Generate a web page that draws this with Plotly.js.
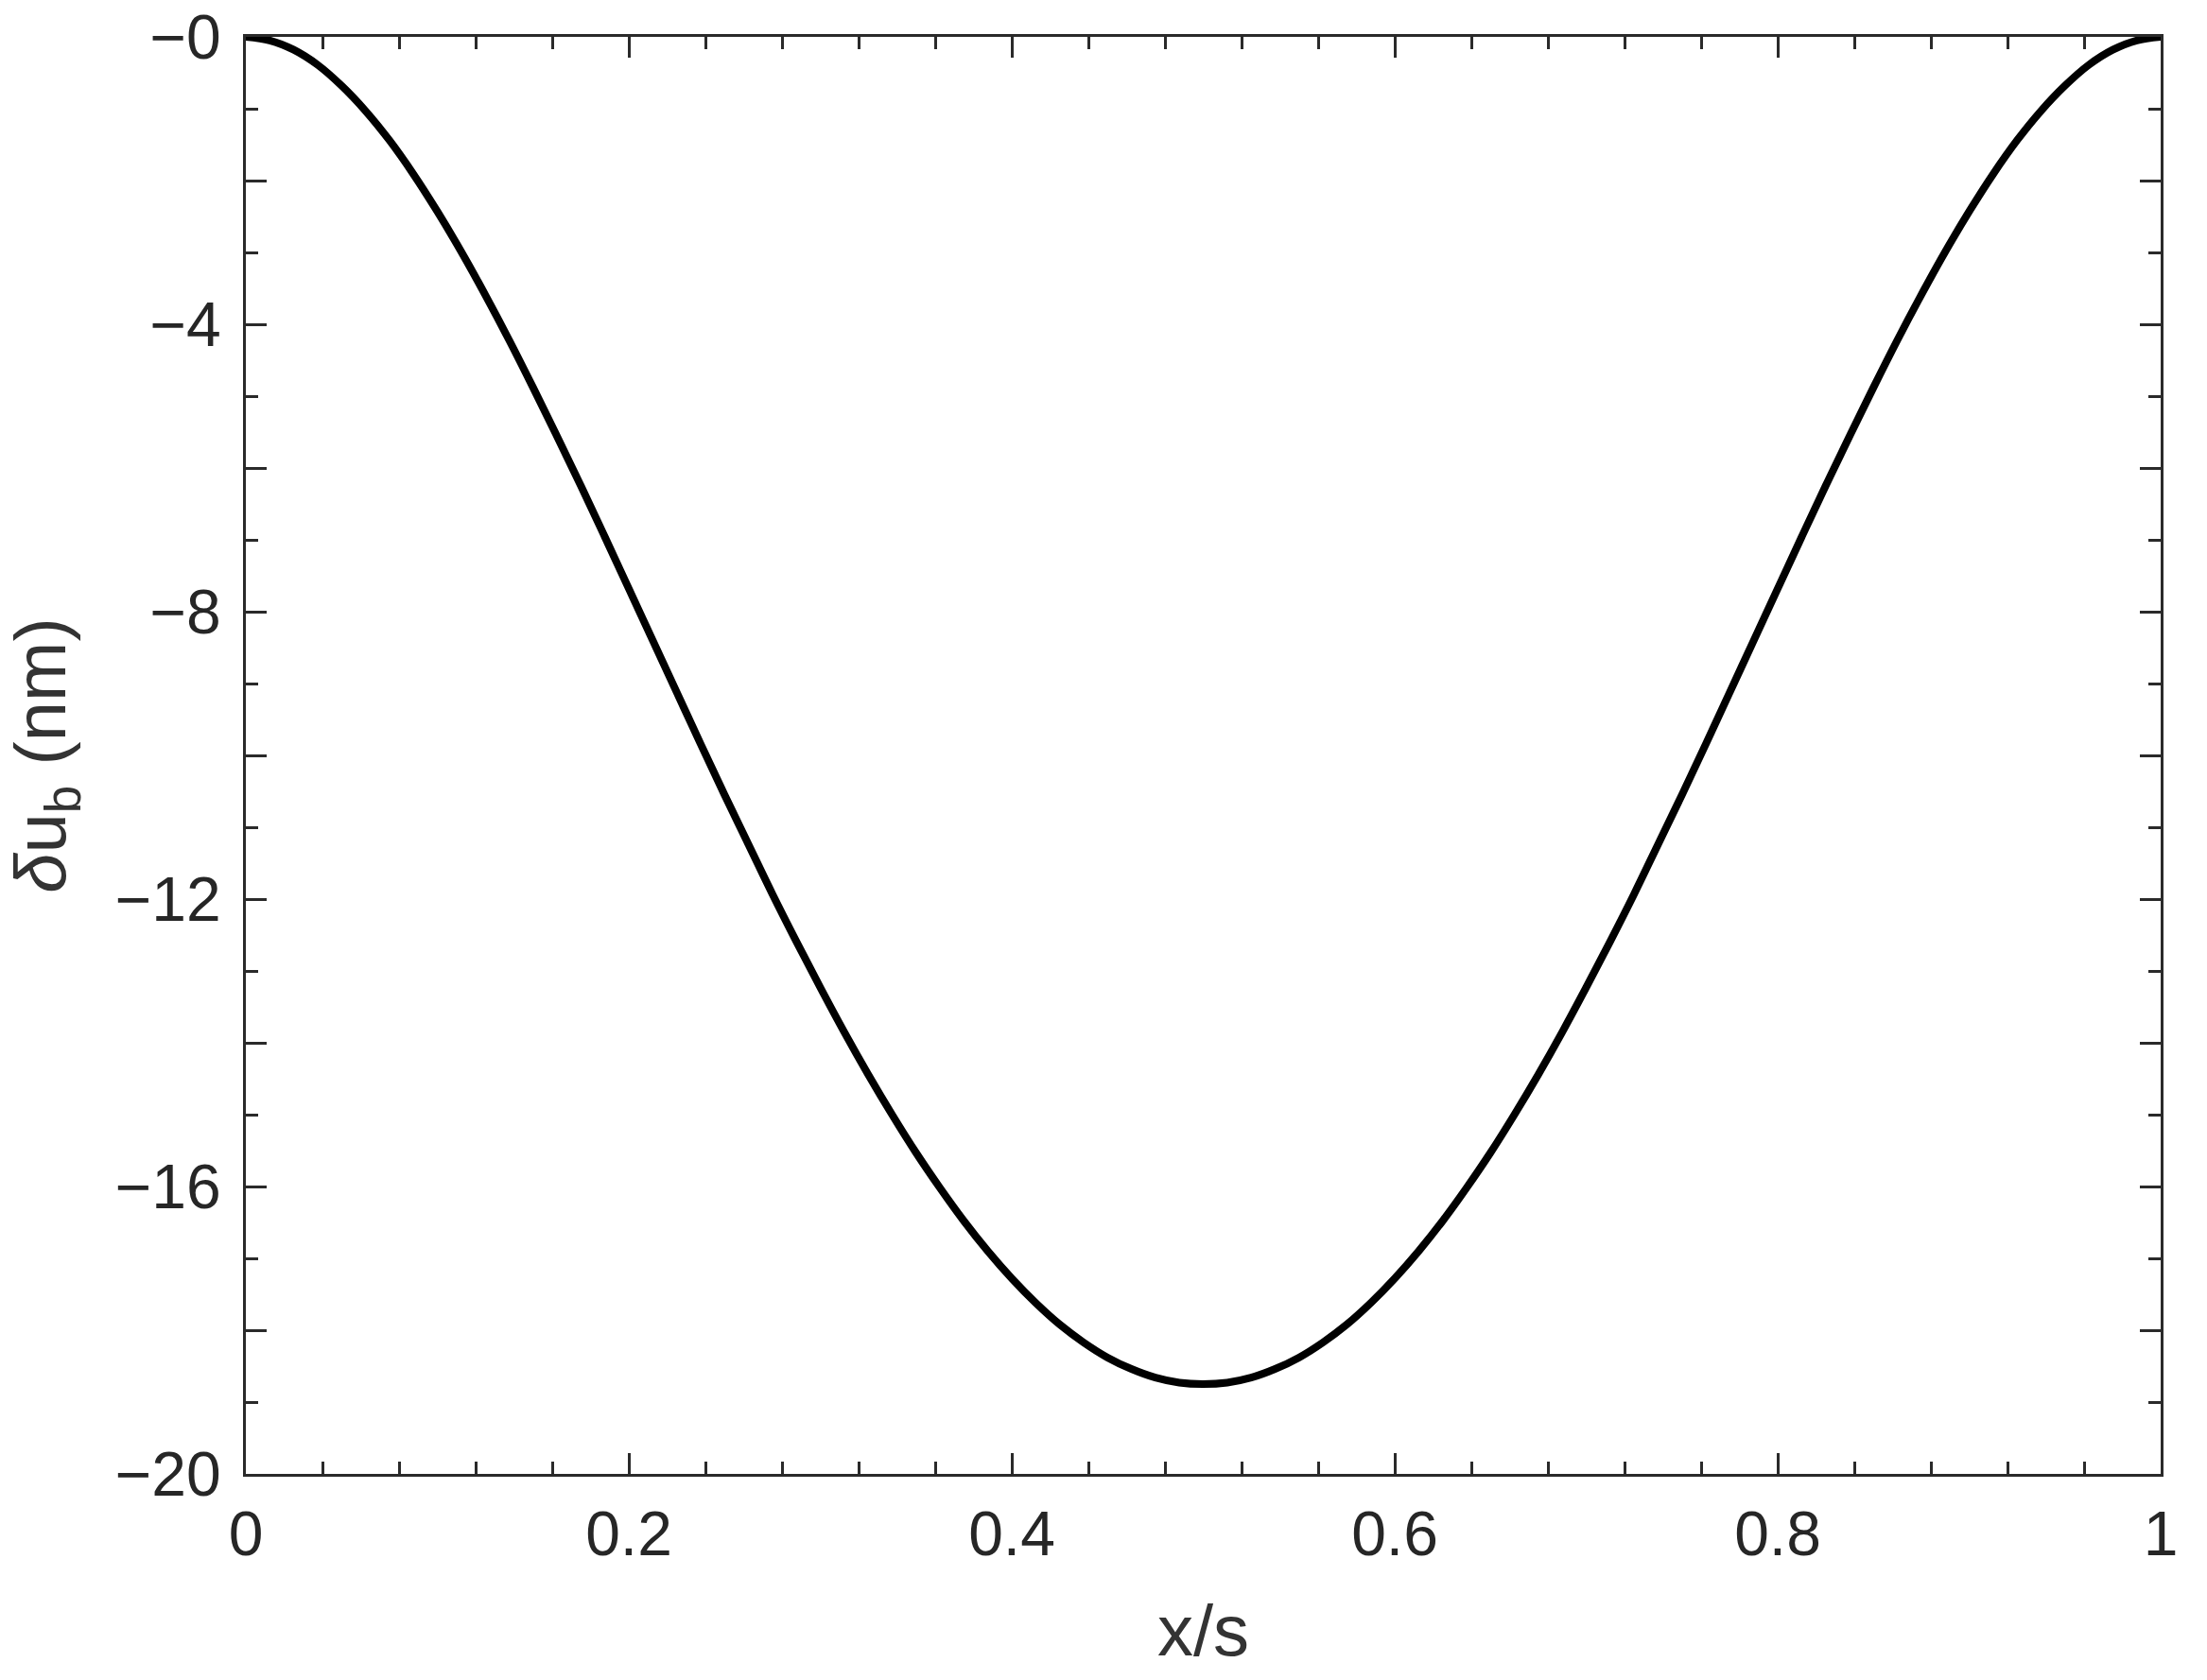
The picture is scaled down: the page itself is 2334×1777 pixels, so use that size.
<!DOCTYPE html>
<html>
<head>
<meta charset="utf-8">
<script src="https://cdn.plot.ly/plotly-3.0.1.min.js"></script>
<style>
  body { margin: 0; background: #fff; }
  #plot { width: 2334px; height: 1777px; }
</style>
</head>
<body>
<div id="plot"></div>
<script>
// positions along the span, x/s
var xs = [0, 0.0125, 0.025, 0.0375, 0.05, 0.0625, 0.075, 0.0875, 0.1, 0.1125,
          0.125, 0.1375, 0.15, 0.1625, 0.175, 0.1875, 0.2, 0.2125, 0.225, 0.2375,
          0.25, 0.2625, 0.275, 0.2875, 0.3, 0.3125, 0.325, 0.3375, 0.35, 0.3625,
          0.375, 0.3875, 0.4, 0.4125, 0.425, 0.4375, 0.45, 0.4625, 0.475, 0.4875,
          0.5, 0.5125, 0.525, 0.5375, 0.55, 0.5625, 0.575, 0.5875, 0.6, 0.6125,
          0.625, 0.6375, 0.65, 0.6625, 0.675, 0.6875, 0.7, 0.7125, 0.725, 0.7375,
          0.75, 0.7625, 0.775, 0.7875, 0.8, 0.8125, 0.825, 0.8375, 0.85, 0.8625,
          0.875, 0.8875, 0.9, 0.9125, 0.925, 0.9375, 0.95, 0.9625, 0.975, 0.9875, 1];

// deflection, nm
var du = [0, -0.05, -0.18, -0.39, -0.68, -1.03, -1.44, -1.91, -2.43, -2.99,
          -3.59, -4.22, -4.88, -5.56, -6.25, -6.96, -7.68, -8.40, -9.12, -9.84,
          -10.55, -11.24, -11.93, -12.59, -13.23, -13.85, -14.44, -15.00, -15.53, -16.02,
          -16.48, -16.90, -17.28, -17.62, -17.92, -18.17, -18.38, -18.54, -18.66, -18.73,
          -18.75, -18.73, -18.66, -18.54, -18.38, -18.17, -17.92, -17.62, -17.28, -16.90,
          -16.48, -16.02, -15.53, -15.00, -14.44, -13.85, -13.23, -12.59, -11.93, -11.24,
          -10.55, -9.84, -9.12, -8.40, -7.68, -6.96, -6.25, -5.56, -4.88, -4.22,
          -3.59, -2.99, -2.43, -1.91, -1.44, -1.03, -0.68, -0.39, -0.18, -0.05, 0];

var xTickVals = [0, 0.2, 0.4, 0.6, 0.8, 1];
var xTickText = ["0", "0.2", "0.4", "0.6", "0.8", "1"];
var yTickVals = [0, -2, -4, -6, -8, -10, -12, -14, -16, -18, -20];
var yTickText = ["\u22120", "", "\u22124", "", "\u22128", "", "\u221212", "", "\u221216", "", "\u221220"];

var axisCol = '#2a2a2a';

var trace = {
  x: xs,
  y: du,
  type: 'scatter',
  mode: 'lines',
  line: { color: '#000', width: 8, shape: 'spline', smoothing: 1 },
  cliponaxis: false,
  hoverinfo: 'skip'
};

var layout = {
  width: 2334,
  height: 1777,
  margin: { l: 260, r: 49, t: 39, b: 218 },
  paper_bgcolor: '#fff',
  plot_bgcolor: '#fff',
  showlegend: false,
  font: { family: 'Liberation Sans, Arial, sans-serif', color: '#262626' },
  xaxis: {
    range: [0, 1],
    tickmode: 'array',
    tickvals: xTickVals,
    ticktext: xTickText,
    ticks: 'inside',
    ticklen: 22,
    tickwidth: 3,
    tickcolor: axisCol,
    minor: { dtick: 0.04, tick0: 0, ticks: 'inside', ticklen: 13, tickwidth: 3, tickcolor: axisCol, showgrid: false },
    showline: true,
    linewidth: 3,
    linecolor: axisCol,
    mirror: 'allticks',
    showgrid: false,
    zeroline: false,
    tickfont: { size: 66, color: '#262626' },
    ticklabelstandoff: 4,
    title: { text: 'x/s', font: { size: 76, color: '#333' }, standoff: 40 },
    automargin: false
  },
  yaxis: {
    range: [-20, 0],
    tickmode: 'array',
    tickvals: yTickVals,
    ticktext: yTickText,
    ticks: 'inside',
    ticklen: 22,
    tickwidth: 3,
    tickcolor: axisCol,
    minor: { dtick: 1, tick0: 0, ticks: 'inside', ticklen: 13, tickwidth: 3, tickcolor: axisCol, showgrid: false },
    showline: true,
    linewidth: 3,
    linecolor: axisCol,
    mirror: 'allticks',
    showgrid: false,
    zeroline: false,
    tickfont: { size: 66, color: '#262626' },
    ticklabelstandoff: 10,
    title: { text: '<i>\u03b4</i>u<sub>b</sub> (nm)', font: { size: 76, color: '#333' }, standoff: 28 },
    automargin: false
  }
};

Plotly.newPlot('plot', [trace], layout, { staticPlot: true, displayModeBar: false });
</script>
</body>
</html>
